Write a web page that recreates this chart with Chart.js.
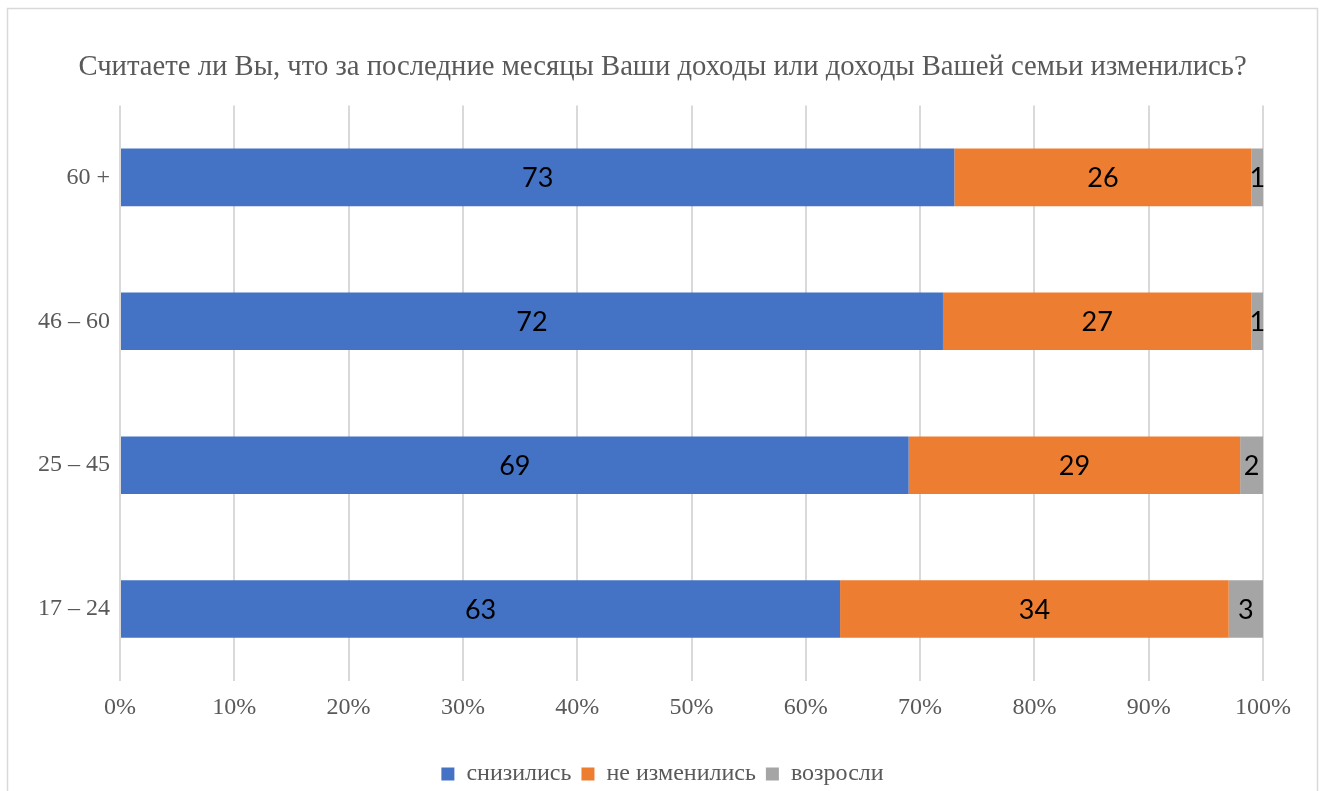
<!DOCTYPE html>
<html>
<head>
<meta charset="utf-8">
<script src="https://cdn.jsdelivr.net/npm/chart.js@4/dist/chart.umd.min.js"></script>
<style>
  html, body { margin: 0; padding: 0; background: #fff; overflow: hidden; }
  #wrap { width: 1325px; height: 796px; }
</style>
</head>
<body>
<div id="wrap"><canvas id="dohody"></canvas></div>
<script>
var categories = ['60 +', '46 – 60', '25 – 45', '17 – 24'];
var snizilis = [73, 72, 69, 63];
var neIzmenilis = [26, 27, 29, 34];
var vozrosli = [1, 1, 2, 3];
var xTicks = [0, 10, 20, 30, 40, 50, 60, 70, 80, 90, 100];

var serif = '"Liberation Serif", "Times New Roman", serif';

// frame around the whole chart
var framePlugin = {
	id: 'frame',
	beforeDraw: function(chart) {
		var ctx = chart.ctx;
		ctx.save();
		ctx.fillStyle = '#ffffff';
		ctx.fillRect(0, 0, chart.width, chart.height);
		ctx.strokeStyle = '#d9d9d9';
		ctx.lineWidth = 1.5;
		ctx.strokeRect(7.5, 8.5, 1310, 810);
		ctx.restore();
	}
};

// value labels in the middle of each segment
var valueLabels = {
	id: 'valueLabels',
	afterDatasetsDraw: function(chart) {
		var ctx = chart.ctx;
		ctx.save();
		ctx.font = '27px Lato, "Open Sans", sans-serif';
		ctx.fillStyle = '#000000';
		ctx.textAlign = 'center';
		ctx.textBaseline = 'middle';
		chart.data.datasets.forEach(function(ds, i) {
			var meta = chart.getDatasetMeta(i);
			meta.data.forEach(function(bar, j) {
				var p = bar.getProps(['x', 'y', 'base'], true);
				ctx.fillText(ds.data[j], (p.x + p.base) / 2, p.y + 1);
			});
		});
		ctx.restore();
	}
};

window.onload = function() {
	var ctx = document.getElementById('dohody').getContext('2d');
	window.myBar = new Chart(ctx, {
		type: 'bar',
		data: {
			labels: categories,
			datasets: [{
				label: 'снизились',
				data: snizilis,
				backgroundColor: '#4472c4'
			}, {
				label: 'не изменились',
				data: neIzmenilis,
				backgroundColor: '#ed7d31'
			}, {
				label: 'возросли',
				data: vozrosli,
				backgroundColor: '#a5a5a5'
			}]
		},
		plugins: [framePlugin, valueLabels],
		options: {
			indexAxis: 'y',
			responsive: true,
			maintainAspectRatio: false,
			animation: false,
			categoryPercentage: 1,
			barPercentage: 0.4,
			layout: {
				padding: 0
			},
			scales: {
				x: {
					stacked: true,
					min: 0,
					max: 100,
					afterBuildTicks: function(scale) {
						scale.ticks = xTicks.map(function(v) { return { value: v }; });
					},
					afterFit: function(scale) {
						scale.height = 71;
						scale.paddingRight = 62;
					},
					grid: { color: '#d9d9d9', lineWidth: 2, drawTicks: false },
					border: { display: false },
					ticks: {
						padding: 12,
						color: '#595959',
						font: { family: serif, size: 24 },
						callback: function(v) { return v + '%'; }
					}
				},
				y: {
					stacked: true,
					afterFit: function(scale) { scale.width = 120; },
					grid: { display: false, drawTicks: false },
					border: { display: false },
					ticks: {
						padding: 10,
						color: '#595959',
						font: { family: serif, size: 24 }
					}
				}
			},
			plugins: {
				title: {
					display: true,
					text: 'Считаете ли Вы, что за последние месяцы Ваши доходы или доходы Вашей семьи изменились?',
					color: '#595959',
					font: { family: serif, size: 28.7, weight: 'normal' },
					padding: { top: 50, bottom: 21 }
				},
				legend: {
					position: 'bottom',
					labels: {
						boxWidth: 13,
						boxHeight: 13,
						padding: 10,
						color: '#595959',
						font: { family: serif, size: 24 }
					}
				},
				tooltip: { enabled: false }
			}
		}
	});
};
</script>
</body>
</html>
